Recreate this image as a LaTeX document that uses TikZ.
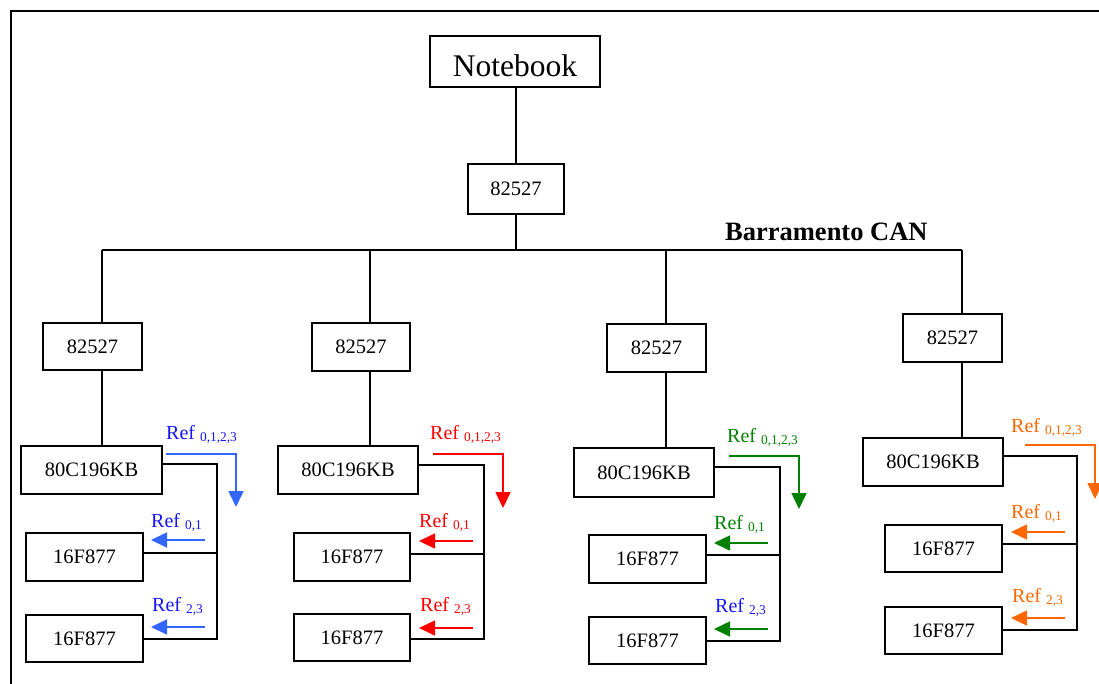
\documentclass[tikz,border=0pt]{standalone}
\usepackage{fontspec}
\setmainfont{Liberation Serif}
\usetikzlibrary{arrows.meta}
\definecolor{txtblue}{RGB}{20,20,255}
\definecolor{arrblue}{RGB}{51,102,255}
\definecolor{cred}{RGB}{255,0,0}
\definecolor{cgreen}{RGB}{0,128,0}
\definecolor{corange}{RGB}{255,102,0}
\newcommand\reflab[1]{Ref {\fontsize{13.4}{15}\selectfont\raisebox{-2.5pt}{#1}}}
\tikzset{
  box/.style={draw, line width=1.8pt, inner sep=0pt, font=\fontsize{20.5}{24}\selectfont},
  conn/.style={line width=1.8pt},
  sig/.style={line width=1.6pt, -{Triangle[length=16pt,width=15pt]}},
  reftxt/.style={anchor=base west, inner sep=0pt, font=\fontsize{20}{24}\selectfont},
}
\begin{document}
\begin{tikzpicture}[x=1pt,y=-1pt]
\useasboundingbox (0,0) rectangle (1099,683);
\clip (0,0) rectangle (1099,683);
\draw[line width=2pt] (11,11) rectangle (1120,700);

% top
\node[box, minimum width=170pt, minimum height=51pt, text height=30pt, text depth=0pt, font=\fontsize{31.5}{36}\selectfont] (nb) at (515,61.5) {Notebook};
\node[box, minimum width=96pt, minimum height=50pt] (t82) at (516,189) {82527};
\draw[conn] (nb.south -| t82.north) -- (t82.north);
\coordinate (busL) at (102,250);
\coordinate (busR) at (962,250);
\coordinate (b1) at (102,250);
\coordinate (b2) at (370,250);
\coordinate (b3) at (666,250);
\coordinate (b4) at (962,250);
\draw[conn] (t82.south) -- (t82.south |- busL);
\draw[conn] (busL) -- (busR);
\node[anchor=base west, inner sep=0pt, font=\bfseries\fontsize{26.5}{30}\selectfont] (can) at (725,240) {Barramento CAN};

% column 1
\node[box, minimum width=99pt, minimum height=47pt] (c1a) at (92.5,346.5) {82527};
\node[box, minimum width=141pt, minimum height=48pt] (c1b) at (91.5,470) {80C196KB};
\node[box, minimum width=117pt, minimum height=48pt] (c1c) at (84.5,557) {16F877};
\node[box, minimum width=117pt, minimum height=47pt] (c1d) at (84.5,638.5) {16F877};
\draw[conn] (b1) -- (b1 |- c1a.north);
\draw[conn] (c1a.south -| b1) -- (b1 |- c1b.north);
\coordinate (c1t) at (217,464);
\coordinate (c1j) at (217,553);
\coordinate (c1e) at (217,639);
\draw[conn] (c1b.east |- c1t) -- (c1t) -- (c1e) -- (c1e -| c1d.east);
\draw[conn] (c1j) -- (c1j -| c1c.east);
\coordinate (c1s) at (166,454);
\coordinate (c1k) at (236,454);
\coordinate (c1z) at (236,507);
\draw[sig, arrblue] (c1s) -- (c1k) -- (c1z);
\coordinate (c1p) at (205,540); \coordinate (c1q) at (151,540);
\draw[sig, arrblue] (c1p) -- (c1q);
\coordinate (c1r) at (205,627); \coordinate (c1u) at (151,627);
\draw[sig, arrblue] (c1r) -- (c1u);
\node[reftxt, text=txtblue] (l1a) at (166,439) {\reflab{0,1,2,3}};
\node[reftxt, text=txtblue] (l1b) at (151,527) {\reflab{0,1}};
\node[reftxt, text=txtblue] (l1c) at (152,611) {\reflab{2,3}};

% column 2
\node[box, minimum width=98pt, minimum height=48pt] (c2a) at (361,347) {82527};
\node[box, minimum width=140pt, minimum height=48pt] (c2b) at (348,470) {80C196KB};
\node[box, minimum width=116pt, minimum height=48pt] (c2c) at (352,557) {16F877};
\node[box, minimum width=116pt, minimum height=47pt] (c2d) at (352,637.5) {16F877};
\draw[conn] (b2) -- (b2 |- c2a.north);
\draw[conn] (c2a.south -| b2) -- (b2 |- c2b.north);
\coordinate (c2t) at (484,465);
\coordinate (c2j) at (484,554);
\coordinate (c2e) at (484,639);
\draw[conn] (c2b.east |- c2t) -- (c2t) -- (c2e) -- (c2e -| c2d.east);
\draw[conn] (c2j) -- (c2j -| c2c.east);
\coordinate (c2s) at (433,454);
\coordinate (c2k) at (503,454);
\coordinate (c2z) at (503,508);
\draw[sig, cred] (c2s) -- (c2k) -- (c2z);
\coordinate (c2p) at (473,541); \coordinate (c2q) at (419,541);
\draw[sig, cred] (c2p) -- (c2q);
\coordinate (c2r) at (473,628); \coordinate (c2u) at (419,628);
\draw[sig, cred] (c2r) -- (c2u);
\node[reftxt, text=cred] (l2a) at (430,439) {\reflab{0,1,2,3}};
\node[reftxt, text=cred] (l2b) at (419,527) {\reflab{0,1}};
\node[reftxt, text=cred] (l2c) at (420,611) {\reflab{2,3}};

% column 3
\node[box, minimum width=99pt, minimum height=48pt] (c3a) at (656.5,348) {82527};
\node[box, minimum width=140pt, minimum height=49pt] (c3b) at (644,472.5) {80C196KB};
\node[box, minimum width=117pt, minimum height=48pt] (c3c) at (647.5,559) {16F877};
\node[box, minimum width=117pt, minimum height=47pt] (c3d) at (647.5,640.5) {16F877};
\draw[conn] (b3) -- (b3 |- c3a.north);
\draw[conn] (c3a.south -| b3) -- (b3 |- c3b.north);
\coordinate (c3t) at (780,467);
\coordinate (c3j) at (780,555);
\coordinate (c3e) at (780,641);
\draw[conn] (c3b.east |- c3t) -- (c3t) -- (c3e) -- (c3e -| c3d.east);
\draw[conn] (c3j) -- (c3j -| c3c.east);
\coordinate (c3s) at (729,456);
\coordinate (c3k) at (799,456);
\coordinate (c3z) at (799,509);
\draw[sig, cgreen] (c3s) -- (c3k) -- (c3z);
\coordinate (c3p) at (768,543); \coordinate (c3q) at (714,543);
\draw[sig, cgreen] (c3p) -- (c3q);
\coordinate (c3r) at (768,629); \coordinate (c3u) at (714,629);
\draw[sig, cgreen] (c3r) -- (c3u);
\node[reftxt, text=cgreen] (l3a) at (727,442) {\reflab{0,1,2,3}};
\node[reftxt, text=cgreen] (l3b) at (714,529) {\reflab{0,1}};
\node[reftxt, text=txtblue] (l3c) at (715,612) {\reflab{2,3}};

% column 4
\node[box, minimum width=99pt, minimum height=48pt] (c4a) at (952.5,338) {82527};
\node[box, minimum width=140pt, minimum height=48pt] (c4b) at (933,462) {80C196KB};
\node[box, minimum width=117pt, minimum height=47pt] (c4c) at (943.5,548.5) {16F877};
\node[box, minimum width=117pt, minimum height=47pt] (c4d) at (943.5,630.5) {16F877};
\draw[conn] (b4) -- (b4 |- c4a.north);
\draw[conn] (c4a.south -| b4) -- (b4 |- c4b.north);
\coordinate (c4t) at (1077,456);
\coordinate (c4j) at (1077,544);
\coordinate (c4e) at (1077,630);
\draw[conn] (c4b.east |- c4t) -- (c4t) -- (c4e) -- (c4e -| c4d.east);
\draw[conn] (c4j) -- (c4j -| c4c.east);
\coordinate (c4s) at (1025,445);
\coordinate (c4k) at (1095,445);
\coordinate (c4z) at (1095,499);
\draw[sig, corange] (c4s) -- (c4k) -- (c4z);
\coordinate (c4p) at (1065,532); \coordinate (c4q) at (1011,532);
\draw[sig, corange] (c4p) -- (c4q);
\coordinate (c4r) at (1065,618); \coordinate (c4u) at (1011,618);
\draw[sig, corange] (c4r) -- (c4u);
\node[reftxt, text=corange] (l4a) at (1011,432) {\reflab{0,1,2,3}};
\node[reftxt, text=corange] (l4b) at (1011,518) {\reflab{0,1}};
\node[reftxt, text=corange] (l4c) at (1012,602) {\reflab{2,3}};
\end{tikzpicture}
\end{document}
